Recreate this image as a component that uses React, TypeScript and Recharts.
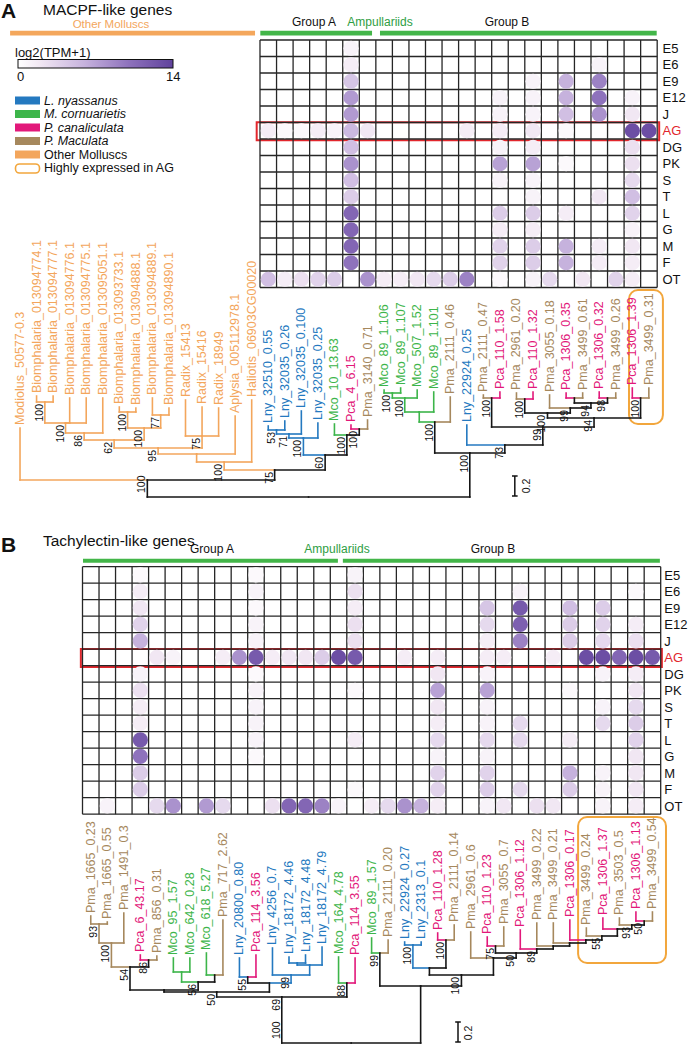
import React from 'react';
import { ScatterChart, Scatter, XAxis, YAxis, ReferenceLine, ReferenceArea } from 'recharts';

const FONT = '"Liberation Sans", Arial, Helvetica, sans-serif';

const TISSUES = ['E5', 'E6', 'E9', 'E12', 'J', 'AG', 'DG', 'PK', 'S', 'T', 'L', 'G', 'M', 'F', 'OT'];

const GROUP_COLORS: Record<string, string> = {
  Lny: '#2479c0',
  Mco: '#3db54a',
  Pca: '#e2187a',
  Pma: '#a6885d',
  other: '#f3a65c',
};

// ---------- Panel A (MACPF-like genes) ----------
const A_LABELS = [
  'Modiolus_50577-0.3', 'Biomphalaria_013094774.1', 'Biomphalaria_013094777.1', 'Biomphalaria_013094776.1',
  'Biomphalaria_013094775.1', 'Biomphalaria_013095051.1', 'Biomphalaria_013093733.1', 'Biomphalaria_013094888.1',
  'Biomphalaria_013094889.1', 'Biomphalaria_013094890.1', 'Radix_15413', 'Radix_15416', 'Radix_18949',
  'Aplysia_005112978.1', 'Haliotis_06903CG00020',
  'Lny_32510_0.55', 'Lny_32035_0.26', 'Lny_32035_0.100', 'Lny_32035_0.25', 'Mco_10_13.63', 'Pca_4_6.15', 'Pma_3140_0.71',
  'Mco_89_1.106', 'Mco_89_1.107', 'Mco_507_1.52', 'Mco_89_1.101', 'Pma_2111_0.46', 'Lny_22924_0.25', 'Pma_2111_0.47',
  'Pca_110_1.58', 'Pma_2961_0.20', 'Pca_110_1.32', 'Pma_3055_0.18', 'Pca_1306_0.35', 'Pma_3499_0.61', 'Pca_1306_0.32',
  'Pma_3499_0.26', 'Pca_1306_1.39', 'Pma_3499_0.31',
];
const A_OFFSET = 15; // labels before the first heatmap column
const A_TIPS = [
  0.69, 1.01, 1.01, 0.99, 0.99, 0.99, 0.90, 0.89, 0.99, 0.89, 0.97, 0.90, 0.89, 0.81, 0.97,
  0.71, 0.76, 0.86, 0.74, 0.73, 0.72, 0.77,
  1.07, 1.09, 1.07, 1.05, 1.00, 0.72, 1.02, 1.05, 1.04, 1.05, 1.02, 1.04, 1.04, 1.05, 1.04, 1.09, 1.09,
];
// [id, height from root, children (leaf column or node id), bootstrap]
const A_NODES: [string, number, (number | string)[], string][] = [
  ['N1', 0.95, [-14, -13], '100'],
  ['N2', 0.74, ['N1', -12, -11], '100'],
  ['BIOa', 0.64, ['N2', -10], '86'],
  ['N3', 0.85, [-9, -8], '100'],
  ['N4', 0.82, [-7, -6], '77'],
  ['BIOb', 0.69, ['N3', 'N4'], '100'],
  ['BIO', 0.57, ['BIOa', 'BIOb'], '62'],
  ['RAD', 0.61, [-5, -4, -3], '75'],
  ['OC3', 0.49, ['BIO', 'RAD'], '95'],
  ['OC2', 0.43, ['OC3', -2], ''],
  ['OC', 0.35, ['OC2', -1], '100'],
  ['L1', 0.67, [0, 1], '53'],
  ['L2', 0.63, ['L1', 2], '71'],
  ['L3', 0.59, ['L2', 3], '100'],
  ['P1', 0.68, [5, 6], '100'],
  ['MP', 0.62, [4, 'P1'], '100'],
  ['GA', 0.42, ['L3', 'MP'], '60'],
  ['G1', 0.27, ['OC', 'GA'], '75'],
  ['OM', 0.17, [-15, 'G1'], ''],
  ['M1', 1.04, [7, 8], '100'],
  ['M2', 0.99, ['M1', 9], '100'],
  ['M3', 0.85, ['M2', 10], ''],
  ['MCP', 0.75, ['M3', 11], '100'],
  ['N13', 0.99, [13, 14], '100'],
  ['N15', 0.98, [15, 16], '100'],
  ['N18', 0.99, [18, 19], ''],
  ['N20', 0.99, [20, 21], '98'],
  ['N18b', 0.94, ['N18', 'N20'], '94'],
  ['N17', 0.89, [17, 'N18b'], '99'],
  ['N15b', 0.84, ['N15', 'N17'], '100'],
  ['N22', 0.99, [22, 23], '100'],
  ['N15c', 0.79, ['N15b', 'N22'], '94'],
  ['N13b', 0.70, ['N13', 'N15c'], '99'],
  ['BB', 0.52, [12, 'N13b'], '73'],
  ['BG', 0.44, ['MCP', 'BB'], '100'],
  ['ROOT', 0, ['OM', 'BG'], '100'],
];
const A_E5 = [0, 0, 0, 0, 0, 1, 0, 0, 0, 0, 0, 0, 0, 0, 0, 0, 0, 0, 0, 0, 0, 0, 0, 0];
const A_E6 = [0, 0, 0, 0, 0, 1.5, 0, 0, 0, 0, 0, 0, 0, 0, 0, 0, 0, 0, 0, 0, 1, 0, 0, 0];
const A_E9 = [0, 0, 0, 0, 0, 4.5, 0, 0, 0, 0, 0, 0, 0, 0, 0, 0, 1, 0, 6, 0, 9, 0, 0, 0];
const A_E12 = [0, 0, 0, 0, 0, 7.5, 0, 0, 0, 0, 0, 0, 0, 0, 1, 0, 1, 0, 6, 0, 10, 0, 1, 0];
const A_J = [0, 0, 0, 0, 0, 7.5, 0, 0, 0, 0, 0, 0, 0, 0, 1, 0, 1, 0, 5, 0, 8, 0, 2, 0];
const A_AG = [1.5, 0.5, 0.5, 1.5, 1, 5.5, 2, 0, 0, 0, 0, 0, 1.5, 0, 1.5, 0, 2, 0, 0.5, 0, 0, 0, 13, 13];
const A_DG = [0, 0, 0, 0, 0, 5, 0, 0, 0, 0, 0, 0, 0, 0, 1, 0, 1.5, 0, 0, 0, 0, 0, 2.5, 0];
const A_PK = [0, 0, 0, 0, 0, 8, 0, 0, 0, 0, 0, 0, 0, 0, 7, 0, 7, 0, 0.5, 0, 0, 0, 2.5, 0];
const A_S = [0, 0, 0, 0, 0, 5, 0, 0, 0, 0, 0, 0, 0, 0, 1, 0, 1, 0, 0, 0, 0, 0, 3, 0];
const A_T = [0, 0, 0, 0, 0, 4, 0, 0, 0, 0, 0, 0, 0, 0, 0, 0, 1, 0, 0, 0, 2, 0, 5, 0];
const A_L = [0, 0, 0, 0, 0, 11, 0, 0, 0, 0, 0, 0, 0, 0, 4, 0, 4, 0, 1.5, 0, 0, 0, 3.5, 0];
const A_G = [0, 0, 0, 0, 0, 11, 0, 0, 0, 0, 0, 0, 0, 0, 1.5, 0, 1.5, 0, 0, 0, 0, 0, 1, 0];
const A_M = [0, 0, 0, 0, 0, 11, 0, 0, 0, 0, 0, 0, 0, 0, 3.5, 0, 4, 0, 6, 0, 1.5, 0, 2, 0];
const A_F = [0, 0, 0, 0, 0, 10, 0, 0, 0, 0, 0, 0, 0, 0, 3.5, 0, 4, 0, 6, 0, 1.5, 0, 1.5, 0];
const A_OT = [5, 1.5, 2.5, 3.5, 4, 0, 8, 1.5, 1.5, 2, 3, 4, 9, 0, 0.5, 0, 1, 3, 0, 2, 0, 3.5, 1.5, 0];
const A_HEAT = [A_E5, A_E6, A_E9, A_E12, A_J, A_AG, A_DG, A_PK, A_S, A_T, A_L, A_G, A_M, A_F, A_OT];

// ---------- Panel B (Tachylectin-like genes) ----------
const B_LABELS = [
  'Pma_1665_0.23', 'Pma_1665_0.55', 'Pma_1491_0.3', 'Pca_6_43.17', 'Pma_856_0.31', 'Mco_95_1.57', 'Mco_642_0.28',
  'Mco_618_5.27', 'Pma_717_2.62', 'Lny_20800_0.80', 'Pca_114_3.56', 'Lny_4256_0.7', 'Lny_18172_4.46', 'Lny_18172_4.48',
  'Lny_18172_4.79', 'Mco_164_4.78', 'Pca_114_3.55', 'Mco_89_1.57', 'Pma_2111_0.20', 'Lny_22924_0.27', 'Lny_2313_0.1',
  'Pca_110_1.28', 'Pma_2111_0.14', 'Pma_2961_0.6', 'Pca_110_1.23', 'Pma_3055_0.7', 'Pca_1306_1.12', 'Pma_3499_0.22',
  'Pma_3499_0.21', 'Pca_1306_0.17', 'Pma_3499_0.24', 'Pca_1306_1.37', 'Pma_3503_0.5', 'Pca_1306_1.13', 'Pma_3499_0.54',
];
const B_TIPS = [
  1.27, 1.21, 1.30, 0.88, 0.87, 0.85, 0.85, 0.90, 1.23, 0.85, 0.88, 0.95, 0.86, 0.88, 0.96, 0.86, 0.85,
  1.05, 1.03, 1.01, 1.01, 1.10, 1.18, 1.11, 1.06, 1.16, 1.13, 1.20, 1.20, 1.23, 1.15, 1.25, 1.25, 1.31, 1.31,
];
const B_NODES: [string, number, (number | string)[], string][] = [
  ['A1', 1.19, [0, 1], '93'],
  ['A2', 1.0, ['A1', 2], '100'],
  ['A3', 0.83, [3, 4], '86'],
  ['A4', 0.76, ['A2', 'A3'], '54'],
  ['A5', 0.71, [5, 6], ''],
  ['A6', 0.68, [7, 8], ''],
  ['A7', 0.61, ['A5', 'A6'], '56'],
  ['A8', 0.53, ['A4', 'A7'], ''],
  ['A9', 0.66, [9, 10], '55'],
  ['A10', 0.8, [12, 13], ''],
  ['A11', 0.78, ['A10', 14], ''],
  ['A12', 0.68, [11, 'A11'], '99'],
  ['A13', 0.6, ['A9', 'A12'], ''],
  ['A14', 0.51, ['A8', 'A13'], '50'],
  ['A15', 0.6, [15, 16], '88'],
  ['A16', 0.46, ['A14', 'A15'], '69'],
  ['B1', 0.9, [17, 18], '99'],
  ['B2', 0.98, [19, 20], '100'],
  ['B3', 1.03, [21, 22], '100'],
  ['Q1', 0.75, ['B2', 'B3'], ''],
  ['S1', 1.22, [33, 34], '50'],
  ['S2', 1.18, [32, 'S1'], '93'],
  ['S3', 1.14, [31, 'S2'], ''],
  ['S4', 1.07, [30, 'S3'], '55'],
  ['S5', 1.03, [29, 'S4'], ''],
  ['S6', 1.0, [28, 'S5'], ''],
  ['S7', 0.97, [27, 'S6'], ''],
  ['S8', 0.94, [26, 'S7'], '89'],
  ['T1', 0.97, [24, 25], '75'],
  ['S9', 0.9, ['T1', 'S8'], '50'],
  ['S10', 0.85, [23, 'S9'], ''],
  ['Q2', 0.68, ['Q1', 'S10'], '100'],
  ['Q3', 0.57, ['B1', 'Q2'], ''],
  ['ROOT', 0, ['A16', 'Q3'], '100'],
];
const B_E5 = [0, 0, 0, 0.5, 0, 0, 0, 0, 0, 0, 0.5, 0, 0, 0, 0, 0, 1, 0, 0, 0, 0, 0, 0, 0, 0, 0, 0, 0, 0, 0, 0, 0, 0, 0, 0];
const B_E6 = [0, 0, 0, 1.5, 0, 0, 0, 0, 0, 0, 1, 0, 0, 0, 0, 0, 2.5, 0, 0, 0, 0, 0, 0, 0, 0, 0, 1, 0, 0, 0, 0, 0, 0, 0.5, 0];
const B_E9 = [0, 0, 0, 2, 0, 0, 0, 0, 0, 0, 0.5, 0, 0, 0, 0, 0, 1.5, 0, 0, 0, 0, 0, 0, 0, 4.5, 0, 12, 0, 0, 5, 0, 4, 0, 0, 0];
const B_E12 = [0, 0, 0, 3.5, 0, 0, 0, 0, 0, 0, 1, 0, 0, 0, 0, 0, 2.5, 0, 0, 0, 0, 0, 0, 0, 3, 0, 11.5, 0, 0, 4, 0, 3.5, 0, 1.5, 0];
const B_J = [0, 0, 0, 6, 0, 0, 0, 0, 0, 0, 1, 0, 0, 0, 0, 0, 2.5, 0, 0, 0, 0, 0, 0, 0, 1.5, 0, 9, 0, 0, 4, 0, 3, 0, 2.5, 0];
const B_AG = [0, 0, 0, 0, 2, 1, 0, 0, 1.5, 8, 12, 1.5, 2, 2, 4, 13, 12, 0, 0, 1.5, 0, 1.5, 0, 0, 1.5, 1.5, 0, 0, 1.5, 0, 13, 13, 11, 13, 12];
const B_DG = [0, 0, 0, 1, 0, 0, 0, 0, 0, 0, 0.5, 0, 0, 0, 0, 0, 0, 0, 0, 0, 0, 2, 0, 0, 1, 0, 0, 0, 0, 0, 0, 1, 0, 1.5, 0];
const B_PK = [0, 0, 0, 2.5, 0, 0, 0, 0, 0, 0, 1, 0, 0, 0, 0, 0, 0.5, 0, 0, 0, 0, 7, 0, 0, 7, 0, 0, 0, 0, 0.5, 0, 0, 0, 2, 0];
const B_S = [0, 0, 0, 1.5, 0, 0, 0, 0, 0, 0, 1, 0, 0, 0, 0, 0, 0, 0, 0, 0, 0, 2, 0, 0, 1, 0, 0, 0, 0, 0, 0, 1, 0, 3, 0];
const B_T = [0, 0, 0, 1.5, 0, 0, 0, 0, 0, 0, 1, 0, 0, 0, 0, 0, 0, 0, 0, 0, 0, 1.5, 0, 0, 1, 0, 3, 0, 0, 0, 0, 3, 0, 4, 0];
const B_L = [0, 0, 0, 12, 0, 0, 0, 0, 0, 0, 1, 0, 0, 0, 0, 0, 1.5, 0, 0, 0, 0, 3, 0, 0, 3, 0, 3, 0, 0, 1.5, 0, 0, 0, 3.5, 0];
const B_G = [0, 0, 0, 10, 0, 0, 0, 0, 0, 0, 0.5, 0, 0, 0, 0, 0, 0, 0, 0, 0, 0, 1, 0, 0, 1, 0, 0, 0, 0, 0, 0, 0, 0, 2, 0];
const B_M = [0, 0, 0, 4, 0, 0, 0, 0, 0, 0, 0, 0, 0, 0, 0, 0, 0, 0, 0, 0, 0, 3.5, 0, 0, 3.5, 0, 0, 0, 0, 6, 0, 1, 0, 2, 0];
const B_F = [0, 0, 0, 4, 0, 0, 0, 0, 0, 0, 0, 0, 0, 0, 0, 0, 0.5, 0, 0, 0, 0, 3.5, 0, 0, 4, 0, 3, 0, 0, 4, 0, 1, 0, 2, 0];
const B_OT = [0, 1, 0, 0, 3, 8, 0, 7.5, 3, 0, 0, 2.5, 11, 11, 9, 1, 0, 1.5, 3, 8, 6, 1.5, 0, 0, 1, 2, 0, 2.5, 2, 0, 0, 1, 0, 1.5, 0];
const B_HEAT = [B_E5, B_E6, B_E9, B_E12, B_J, B_AG, B_DG, B_PK, B_S, B_T, B_L, B_G, B_M, B_F, B_OT];

// ---------- helpers ----------
const groupOf = (name: string) => {
  const p = name.split('_')[0];
  return GROUP_COLORS[p] && p !== 'other' ? p : 'other';
};

const HEAT_STOPS: [number, number[]][] = [
  [0, [255, 255, 255]],
  [2, [241, 231, 243]],
  [6, [198, 178, 221]],
  [10, [142, 114, 188]],
  [14, [96, 66, 156]],
];
const heatColor = (v: number) => {
  const x = Math.max(0, Math.min(14, v));
  for (let i = 1; i < HEAT_STOPS.length; i++) {
    const [v1, c1] = HEAT_STOPS[i];
    const [v0, c0] = HEAT_STOPS[i - 1];
    if (x <= v1) {
      const t = (x - v0) / (v1 - v0);
      const c = c0.map((a, k) => Math.round(a + (c1[k] - a) * t));
      return `rgb(${c[0]},${c[1]},${c[2]})`;
    }
  }
  return 'rgb(96,66,156)';
};

function buildTree(labels: string[], tips: number[], nodes: [string, number, (number | string)[], string][], offset: number) {
  const leafMap = new Map<number, any>();
  const leaves = labels.map((name, i) => {
    const g = groupOf(name);
    const leaf = { x: i - offset, y: tips[i], d: tips[i], name, color: GROUP_COLORS[g], groups: new Set([g]) };
    leafMap.set(i - offset, leaf);
    return leaf;
  });
  const nodeMap = new Map<string, any>();
  const get = (k: number | string) => (typeof k === 'number' ? leafMap.get(k) : nodeMap.get(k));
  const colorOf = (n: any) => (n.groups.size === 1 ? GROUP_COLORS[[...n.groups][0] as string] : '#151515');
  const segments: any[] = [];
  const boots: any[] = [];
  nodes.forEach(([id, d, kids, bs]) => {
    const cs = kids.map(get);
    const xs = cs.map((c: any) => c.x);
    const x = (Math.min(...xs) + Math.max(...xs)) / 2;
    const groups = new Set<string>();
    cs.forEach((c: any) => c.groups.forEach((g: string) => groups.add(g)));
    const node = { id, x, d, kids: cs, groups };
    nodeMap.set(id, node);
    cs.forEach((c: any) => {
      const col = colorOf(c);
      segments.push({ x1: x, y1: d, x2: c.x, y2: d, color: col });
      segments.push({ x1: c.x, y1: d, x2: c.x, y2: c.d, color: col });
    });
    if (bs) {
      if (id === 'ROOT') boots.push({ x: cs[0].x, y: d, bs, root: true });
      else boots.push({ x, y: d, bs, root: false });
    }
  });
  return { leaves, segments, boots };
}

const TipLabel = (p: any) => (
  <text
    transform={`translate(${p.cx},${p.cy - 3}) rotate(-90)`}
    textAnchor="start"
    dominantBaseline="central"
    fontSize={12.5}
    fontFamily={FONT}
    fill={p.payload.color}
  >
    {p.payload.name}
  </text>
);

const BootLabel = (p: any) => {
  const root = p.payload.root;
  return (
    <text
      transform={root ? `translate(${p.cx - 6},${p.cy - 4}) rotate(-90)` : `translate(${p.cx - 6},${p.cy + 2}) rotate(-90)`}
      textAnchor={root ? 'start' : 'end'}
      dominantBaseline="central"
      fontSize={10.5}
      fontFamily={FONT}
      fill="#111"
    >
      {p.payload.bs}
    </text>
  );
};

const HeatDot = (p: any) => <circle cx={p.cx} cy={p.cy} r={7.6} fill={heatColor(p.payload.v)} />;

const RowTick = (p: any) => {
  const name = TISSUES[p.payload.value];
  return (
    <text x={p.x} y={p.y} dy={4.6} textAnchor="start" fontSize={13} fontFamily={FONT} fill={name === 'AG' ? '#e2262c' : '#111'}>
      {name}
    </text>
  );
};

type Bar = { x1: number; x2: number; y1: number; y2: number; color: string };

function Heatmap(props: {
  rows: number[][];
  xDomain: [number, number];
  yDomain: [number, number];
  height: number;
  margin: any;
  yAxisWidth: number;
  bars: Bar[];
  box: [number, number, number, number];
}) {
  const { rows, xDomain, yDomain, height, margin, yAxisWidth, bars, box } = props;
  const nCols = rows[0].length;
  const cells: any[] = [];
  rows.forEach((row, r) => row.forEach((v, c) => { if (v > 0) cells.push({ x: c, y: r, v }); }));
  const vLines = Array.from({ length: nCols + 1 }, (_, k) => k - 0.5);
  const hLines = Array.from({ length: rows.length + 1 }, (_, k) => k - 0.5);
  return (
    <ScatterChart width={689} height={height} margin={margin}>
      <XAxis type="number" dataKey="x" domain={xDomain} hide allowDataOverflow />
      <YAxis
        type="number"
        dataKey="y"
        domain={yDomain}
        reversed
        orientation="right"
        width={yAxisWidth}
        ticks={TISSUES.map((_, i) => i)}
        interval={0}
        axisLine={false}
        tickLine={false}
        tickSize={0}
        tickMargin={2}
        tick={RowTick}
        allowDataOverflow
      />
      {bars.map((b, i) => (
        <ReferenceArea key={`bar${i}`} x1={b.x1} x2={b.x2} y1={b.y1} y2={b.y2} fill={b.color} fillOpacity={1} stroke="none" ifOverflow="visible" />
      ))}
      <Scatter data={cells} isAnimationActive={false} shape={HeatDot} />
      {vLines.map((x) => (
        <ReferenceLine key={`v${x}`} segment={[{ x, y: -0.5 }, { x, y: rows.length - 0.5 }]} stroke="#262626" strokeWidth={1.3} ifOverflow="visible" />
      ))}
      {hLines.map((y) => (
        <ReferenceLine key={`h${y}`} segment={[{ x: -0.5, y }, { x: nCols - 0.5, y }]} stroke="#262626" strokeWidth={1.3} ifOverflow="visible" />
      ))}
      <ReferenceArea x1={box[0]} x2={box[1]} y1={box[2]} y2={box[3]} fill="none" fillOpacity={0} stroke="#e2262c" strokeWidth={2} ifOverflow="visible" />
    </ScatterChart>
  );
}

function Tree(props: {
  labels: string[];
  tips: number[];
  nodes: [string, number, (number | string)[], string][];
  offset: number;
  xDomain: [number, number];
  yDomain: [number, number];
  height: number;
  margin: any;
  box: [number, number, number, number];
  scaleX: number;
}) {
  const { labels, tips, nodes, offset, xDomain, yDomain, height, margin, box, scaleX } = props;
  const t = buildTree(labels, tips, nodes, offset);
  return (
    <ScatterChart width={689} height={height} margin={margin}>
      <XAxis type="number" dataKey="x" domain={xDomain} hide />
      <YAxis type="number" dataKey="y" domain={yDomain} hide />
      <ReferenceArea
        x1={box[0]}
        x2={box[1]}
        y1={box[2]}
        y2={box[3]}
        ifOverflow="visible"
        shape={(p: any) => (
          <rect x={p.x} y={p.y} width={p.width} height={p.height} rx={9} ry={9} fill="none" stroke="#f2a63c" strokeWidth={2} />
        )}
      />
      {t.segments.map((s, i) => (
        <ReferenceLine
          key={`s${i}`}
          segment={[{ x: s.x1, y: s.y1 }, { x: s.x2, y: s.y2 }]}
          stroke={s.color}
          strokeWidth={1.6}
          strokeLinecap="square"
          ifOverflow="visible"
        />
      ))}
      <ReferenceLine segment={[{ x: scaleX, y: 0.01 }, { x: scaleX, y: 0.21 }]} stroke="#111" strokeWidth={1.5} ifOverflow="visible" />
      <ReferenceLine segment={[{ x: scaleX - 0.17, y: 0.01 }, { x: scaleX + 0.17, y: 0.01 }]} stroke="#111" strokeWidth={1.5} ifOverflow="visible" />
      <ReferenceLine segment={[{ x: scaleX - 0.17, y: 0.21 }, { x: scaleX + 0.17, y: 0.21 }]} stroke="#111" strokeWidth={1.5} ifOverflow="visible" />
      <Scatter data={t.leaves} isAnimationActive={false} shape={TipLabel} />
      <Scatter data={t.boots} isAnimationActive={false} shape={BootLabel} />
    </ScatterChart>
  );
}

const LEGEND_ITEMS = [
  { label: 'L. nyassanus', color: GROUP_COLORS.Lny, italic: true },
  { label: 'M. cornuarietis', color: GROUP_COLORS.Mco, italic: true },
  { label: 'P. canaliculata', color: GROUP_COLORS.Pca, italic: true },
  { label: 'P. Maculata', color: GROUP_COLORS.Pma, italic: true },
  { label: 'Other Molluscs', color: GROUP_COLORS.other, italic: false },
];

function Overlay() {
  return (
    <svg width={689} height={1045} style={{ position: 'absolute', left: 0, top: 0, pointerEvents: 'none' }} fontFamily={FONT}>
      <defs>
        <linearGradient id="heatgrad" x1="0" x2="1" y1="0" y2="0">
          {[0, 2, 6, 10, 14].map((v) => (
            <stop key={v} offset={v / 14} stopColor={heatColor(v)} />
          ))}
        </linearGradient>
      </defs>
      {/* Panel A header */}
      <text x={1} y={18} fontSize={21} fontWeight="bold" fill="#111">A</text>
      <text x={43} y={15} fontSize={15.5} fill="#111">MACPF-like genes</text>
      <text x={111} y={28} fontSize={11.5} fill={GROUP_COLORS.other} textAnchor="middle">Other Molluscs</text>
      <text x={314} y={26} fontSize={12} fill="#111" textAnchor="middle">Group A</text>
      <text x={380} y={26} fontSize={12} fill="#2e9e43" textAnchor="middle">Ampullariids</text>
      <text x={507} y={26} fontSize={12} fill="#111" textAnchor="middle">Group B</text>
      {/* colour scale */}
      <text x={15} y={57} fontSize={13} fill="#111">log2(TPM+1)</text>
      <rect x={18} y={59.5} width={155} height={8.5} fill="url(#heatgrad)" stroke="#111" strokeWidth={1} />
      <text x={17} y={81} fontSize={13} fill="#111">0</text>
      <text x={166} y={81} fontSize={13} fill="#111">14</text>
      {/* species legend */}
      {LEGEND_ITEMS.map((it, i) => (
        <g key={it.label}>
          <rect x={15} y={96.5 + i * 13.5} width={25} height={8} fill={it.color} />
          <text x={44} y={104.5 + i * 13.5} fontSize={12.5} fontStyle={it.italic ? 'italic' : 'normal'} fill="#111">{it.label}</text>
        </g>
      ))}
      <rect x={15.5} y={164} width={24} height={9} rx={4} fill="none" stroke="#f2a63c" strokeWidth={1.6} />
      <text x={44} y={172} fontSize={12.5} fill="#111">Highly expressed in AG</text>
      <text transform="translate(526,486) rotate(-90)" textAnchor="middle" dominantBaseline="central" fontSize={10.5} fill="#111">0.2</text>
      {/* Panel B header */}
      <text x={1} y={552} fontSize={21} fontWeight="bold" fill="#111">B</text>
      <text x={43} y={546} fontSize={15.5} fill="#111">Tachylectin-like genes</text>
      <text x={212} y={553} fontSize={12} fill="#111" textAnchor="middle">Group A</text>
      <text x={337} y={553} fontSize={12} fill="#2e9e43" textAnchor="middle">Ampullariids</text>
      <text x={493} y={553} fontSize={12} fill="#111" textAnchor="middle">Group B</text>
      <text transform="translate(468,1033) rotate(-90)" textAnchor="middle" dominantBaseline="central" fontSize={10.5} fill="#111">0.2</text>
    </svg>
  );
}

const GREEN = '#43b649';

export default function App() {
  return (
    <div style={{ position: 'absolute', left: 0, top: 0, width: 689, height: 1045, background: '#fff', fontFamily: FONT, overflow: 'hidden' }}>
      <div style={{ position: 'absolute', left: 0, top: 220 }}>
        <Tree
          labels={A_LABELS}
          tips={A_TIPS}
          nodes={A_NODES}
          offset={A_OFFSET}
          xDomain={[-15.7, 24.0]}
          yDomain={[-0.05, 2.7]}
          height={290}
          margin={{ top: 7, right: 23.6, bottom: 8, left: 8.44 }}
          box={[21.8, 23.85, 0.73, 2.07]}
          scaleX={14.9}
        />
      </div>
      <div style={{ position: 'absolute', left: 0, top: 0 }}>
        <Heatmap
          rows={A_HEAT}
          xDomain={[-15.7, 23.7]}
          yDomain={[-2, 14.5]}
          height={290}
          margin={{ top: 15.25, right: 0, bottom: 2.5, left: 8.44 }}
          yAxisWidth={28.5}
          bars={[
            { x1: -15.6, x2: -0.8, y1: -1.06, y2: -0.78, color: '#f4a75c' },
            { x1: -0.48, x2: 6.27, y1: -1.06, y2: -0.78, color: GREEN },
            { x1: 6.75, x2: 23.47, y1: -1.06, y2: -0.78, color: GREEN },
          ]}
          box={[-0.7, 23.62, 4.49, 5.58]}
        />
      </div>
      <div style={{ position: 'absolute', left: 0, top: 798 }}>
        <Tree
          labels={B_LABELS}
          tips={B_TIPS}
          nodes={B_NODES}
          offset={0}
          xDomain={[-0.6, 35.0]}
          yDomain={[-0.01, 2.4]}
          height={247}
          margin={{ top: 5, right: 20.04, bottom: 1, left: 80.85 }}
          box={[29.5, 34.82, 0.8, 2.26]}
          scaleX={22.23}
        />
      </div>
      <div style={{ position: 'absolute', left: 0, top: 530 }}>
        <Heatmap
          rows={B_HEAT}
          xDomain={[-0.6, 34.6]}
          yDomain={[-2.5, 14.5]}
          height={290}
          margin={{ top: 3.7, right: 0, bottom: 5.8, left: 80.85 }}
          yAxisWidth={26.65}
          bars={[
            { x1: -0.47, x2: 14.96, y1: -0.98, y2: -0.74, color: GREEN },
            { x1: 15.26, x2: 34.45, y1: -0.98, y2: -0.74, color: GREEN },
          ]}
          box={[-0.6, 34.57, 4.49, 5.58]}
        />
      </div>
      <Overlay />
    </div>
  );
}
